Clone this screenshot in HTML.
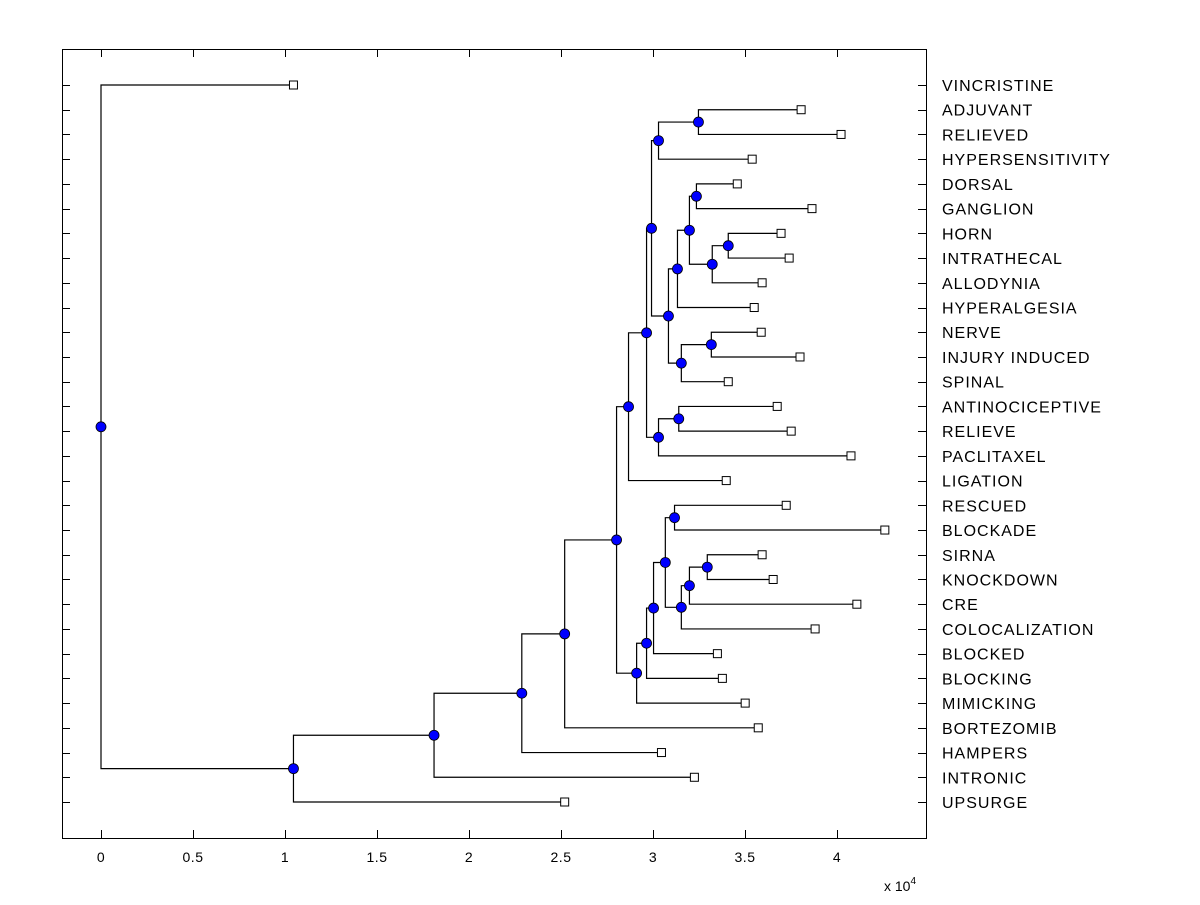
<!DOCTYPE html>
<html><head><meta charset="utf-8"><style>
html,body{margin:0;padding:0;background:#fff;}
svg text{font-family:"Liberation Sans",Arial,sans-serif;}
</style></head><body>
<svg id="chart" width="1200" height="900" xmlns="http://www.w3.org/2000/svg">
<rect x="0" y="0" width="1200" height="900" fill="#fff"/>
<g id="axes"></g>
<g id="links"></g>
<g id="marks"></g>
<g id="labels"></g>
</svg>
<script>
const leafLabels = ["VINCRISTINE","ADJUVANT","RELIEVED","HYPERSENSITIVITY","DORSAL","GANGLION","HORN","INTRATHECAL","ALLODYNIA","HYPERALGESIA","NERVE","INJURY INDUCED","SPINAL","ANTINOCICEPTIVE","RELIEVE","PACLITAXEL","LIGATION","RESCUED","BLOCKADE","SIRNA","KNOCKDOWN","CRE","COLOCALIZATION","BLOCKED","BLOCKING","MIMICKING","BORTEZOMIB","HAMPERS","INTRONIC","UPSURGE"];
const leafHeights = [1.046,3.805,4.022,3.539,3.458,3.864,3.696,3.740,3.593,3.550,3.588,3.799,3.409,3.675,3.751,4.076,3.398,3.724,4.260,3.593,3.653,4.108,3.881,3.350,3.377,3.501,3.572,3.046,3.225,2.520];
const mergeLeft  = [1,30,4,6,33,32,35,10,37,36,31,13,41,40,43,17,19,46,47,45,49,50,51,44,53,54,55,56,0];
const mergeRight = [2,3,5,7,8,34,9,11,12,38,39,14,15,42,16,18,20,21,22,48,23,24,25,52,26,27,28,29,57];
const mergeHeights = [3.247,3.030,3.236,3.409,3.322,3.198,3.133,3.317,3.154,3.084,2.992,3.140,3.030,2.965,2.867,3.117,3.295,3.198,3.154,3.067,3.003,2.965,2.911,2.802,2.520,2.287,1.810,1.046,0];
const xTicks = [0,0.5,1,1.5,2,2.5,3,3.5,4];
const xTickLabels = ["0","0.5","1","1.5","2","2.5","3","3.5","4"];

const NS="http://www.w3.org/2000/svg";
const L=62,T=49,R=926,B=838;
const X=v=>101+v*184;
const Y=i=>85+i*(802-85)/29;
function mk(tag,attrs,parent){const e=document.createElementNS(NS,tag);for(const k in attrs)e.setAttribute(k,attrs[k]);parent.appendChild(e);return e;}
const axes=document.getElementById('axes'),links=document.getElementById('links'),marks=document.getElementById('marks'),labels=document.getElementById('labels');

let f=mk('rect',{x:L+0.5,y:T+0.5,width:R-L,height:B-T,fill:'none',stroke:'#000','stroke-width':1},axes);


xTicks.forEach((v,i)=>{
  const x=Math.round(X(v))+0.5;
  let t=mk('path',{d:`M${x},${T}v8M${x},${B}v-8`,stroke:'#000','stroke-width':1},axes);
  
  
  let tl=mk('text',{x:X(v),y:B+24,'font-size':14,'text-anchor':'middle','letter-spacing':0.5},axes);
  tl.textContent=xTickLabels[i];
  
  
});
let ex=mk('text',{x:884,y:891,'font-size':14},axes);
ex.innerHTML='x 10<tspan dy="-7" font-size="10">4</tspan>';



const n=leafLabels.length;
const ny=[],nx=[];
for(let i=0;i<n;i++){ny[i]=Y(i);nx[i]=X(leafHeights[i]);
  const y=Math.round(Y(i))+0.5;
  let t=mk('path',{d:`M${L},${y}h8M${R},${y}h-8`,stroke:'#000','stroke-width':1},axes);
  
  
  let lb=mk('text',{x:942,y:Y(i)+6,'font-size':16,'letter-spacing':1},labels);
  lb.textContent=leafLabels[i];
  
  
}
for(let k=0;k<mergeLeft.length;k++){
  const a=mergeLeft[k],b=mergeRight[k],id=n+k;
  ny[id]=(ny[a]+ny[b])/2;nx[id]=X(mergeHeights[k]);
  const x=nx[id];
  let p=mk('path',{d:`M${nx[a]},${ny[a]}H${x}V${ny[b]}H${nx[b]}`,fill:'none',stroke:'#000','stroke-width':1.2},links);
  
  
}
for(let i=0;i<n;i++){
  let s=mk('rect',{x:nx[i]-4,y:ny[i]-4,width:8,height:8,fill:'#fff',stroke:'#000','stroke-width':1},marks);
  
  
}
for(let k=0;k<mergeLeft.length;k++){
  const id=n+k;
  let c=mk('circle',{cx:nx[id],cy:ny[id],r:5,fill:'#0000ff',stroke:'#000','stroke-width':0.8},marks);
  
  
}
</script>
</body></html>
